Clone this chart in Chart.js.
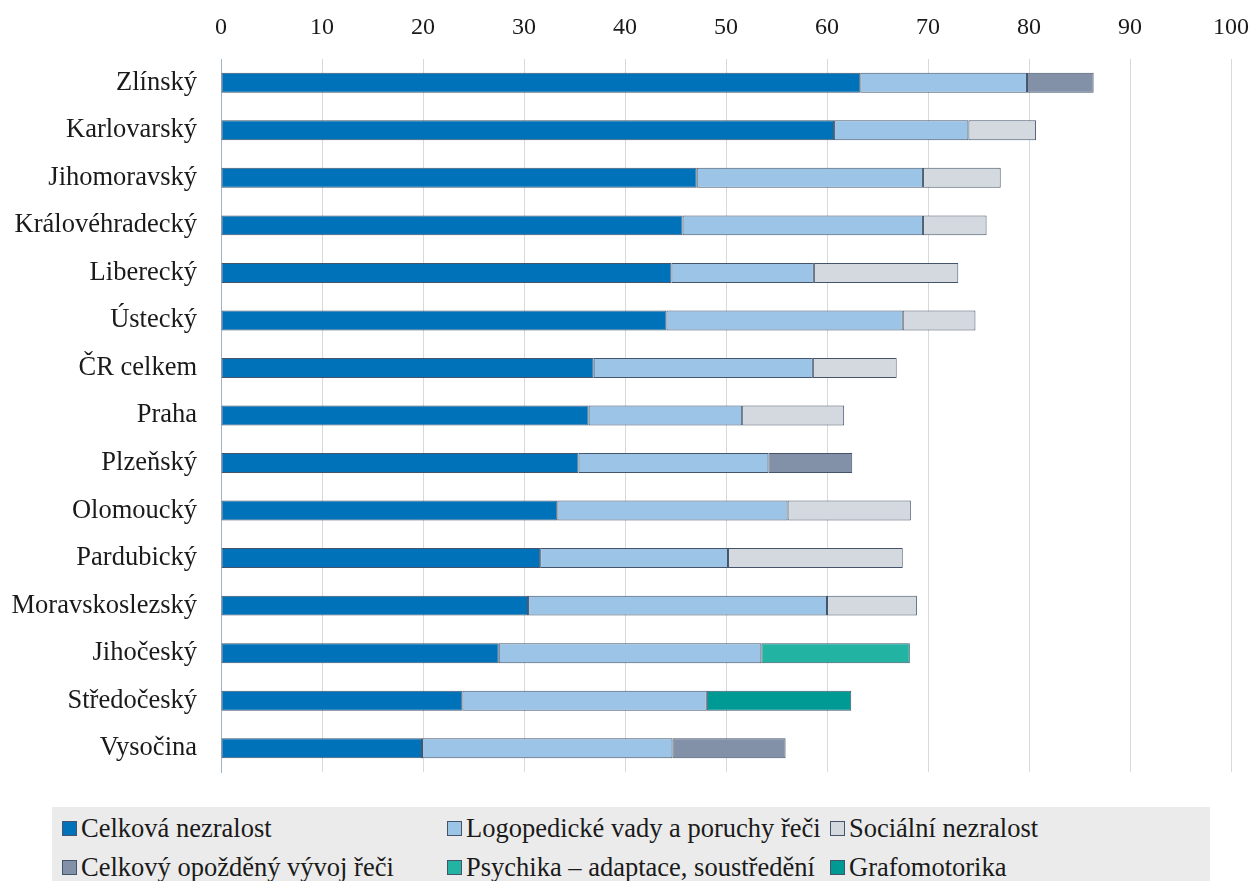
<!DOCTYPE html>
<html>
<head>
<meta charset="utf-8">
<script src="https://cdn.jsdelivr.net/npm/chart.js@4"></script>
<style>
  html, body { margin: 0; padding: 0; background: #ffffff; }
  body { width: 1252px; height: 881px; position: relative; overflow: hidden; font-family: "Liberation Serif", "Times New Roman", serif; }
  #c { position: absolute; left: 0; top: 0; }
  #legend { position: absolute; left: 52px; top: 807px; width: 1158px; height: 74px; background: #ebebeb; }
  .item { position: absolute; display: flex; align-items: center; font-size: 26.5px; color: #1a1a1a; white-space: nowrap; line-height: 30px; height: 30px; }
  .sw { width: 15px; height: 15px; border: 1px solid #44546a; margin-right: 4px; box-sizing: border-box; flex: none; }
</style>
</head>
<body>
<canvas id="c" width="1252" height="790" style="width:1252px;height:790px"></canvas>
<div id="legend"></div>
<script>
const categories = ["Zlínský","Karlovarský","Jihomoravský","Královéhradecký","Liberecký","Ústecký","ČR celkem","Praha","Plzeňský","Olomoucký","Pardubický","Moravskoslezský","Jihočeský","Středočeský","Vysočina"];
const seriesNames = ["Celková nezralost","Logopedické vady a poruchy řeči","Sociální nezralost","Celkový opožděný vývoj řeči","Psychika – adaptace, soustředění","Grafomotorika"];
const celkovaNezralost   = [63.3, 60.7, 47.1, 45.7, 44.6, 44.1, 36.9, 36.4, 35.4, 33.3, 31.6, 30.4, 27.5, 23.9, 19.9];
const logopedickeVady    = [16.5, 13.3, 22.4, 23.8, 14.1, 23.4, 21.7, 15.2, 18.8, 22.8, 18.6, 29.6, 26.0, 24.2, 24.8];
const socialniNezralost  = [null, 6.7, 7.7, 6.3, 14.3, 7.2, 8.3, 10.1, null, 12.2, 17.3, 8.9, null, null, null];
const opozdenyVyvojReci  = [6.6, null, null, null, null, null, null, null, 8.3, null, null, null, null, null, 11.2];
const psychika           = [null, null, null, null, null, null, null, null, null, null, null, null, 14.7, null, null];
const grafomotorika      = [null, null, null, null, null, null, null, null, null, null, null, null, null, 14.3, null];
const xTicks = [0,10,20,30,40,50,60,70,80,90,100];

const colors = ["#0072ba","#9bc4e7","#d3d9df","#8291a8","#22b3a2","#009a94"];
const seriesData = [celkovaNezralost, logopedickeVady, socialniNezralost, opozdenyVyvojReci, psychika, grafomotorika];

const FONT = "'Liberation Serif', 'Times New Roman', serif";

const datasets = seriesNames.map((name, i) => ({
  label: name,
  data: seriesData[i],
  backgroundColor: colors[i],
  borderColor: "#44546a",
  borderWidth: 1,
  borderSkipped: false,
  barPercentage: 0.42,
  categoryPercentage: 1.0
}));

function zeroPad(s) { s.paddingLeft = 0; s.paddingRight = 0; s.paddingTop = 0; s.paddingBottom = 0; }

new Chart(document.getElementById('c'), {
  type: 'bar',
  data: { labels: categories, datasets },
  options: {
    indexAxis: 'y',
    responsive: false,
    devicePixelRatio: 1,
    animation: false,
    layout: { padding: { left: 0, right: 21, top: 0, bottom: 18 } },
    plugins: { legend: { display: false }, tooltip: { enabled: false } },
    scales: {
      x: {
        position: 'top',
        stacked: true,
        min: 0, max: 100,
        afterBuildTicks: (s) => { s.ticks = xTicks.map(v => ({ value: v })); },
        afterFit: (s) => { s.height = 59; zeroPad(s); },
        ticks: { font: { family: FONT, size: 24 }, color: '#1a1a1a', padding: 17, maxRotation: 0 },
        grid: { color: '#d9d9d9', lineWidth: 1, drawTicks: false },
        border: { display: false }
      },
      y: {
        stacked: true,
        afterFit: (s) => { s.width = 221; zeroPad(s); },
        ticks: { font: { family: FONT, size: 26.5 }, color: '#1a1a1a', padding: 24 },
        grid: { display: false, drawTicks: false },
        border: { display: true, color: '#a3b2c6', width: 1 }
      }
    }
  }
});

// HTML legend built from series names/colours
const legendPos = [[10,21],[395,21],[778,21],[10,60],[395,60],[778,60]];
const lg = document.getElementById('legend');
seriesNames.forEach((name, i) => {
  const d = document.createElement('div');
  d.className = 'item';
  d.style.left = legendPos[i][0] + 'px';
  d.style.top = (legendPos[i][1] - 15) + 'px';
  const sw = document.createElement('span');
  sw.className = 'sw';
  sw.style.background = colors[i];
  const t = document.createElement('span');
  t.textContent = name;
  d.appendChild(sw); d.appendChild(t);
  lg.appendChild(d);
});
</script>
</body>
</html>
